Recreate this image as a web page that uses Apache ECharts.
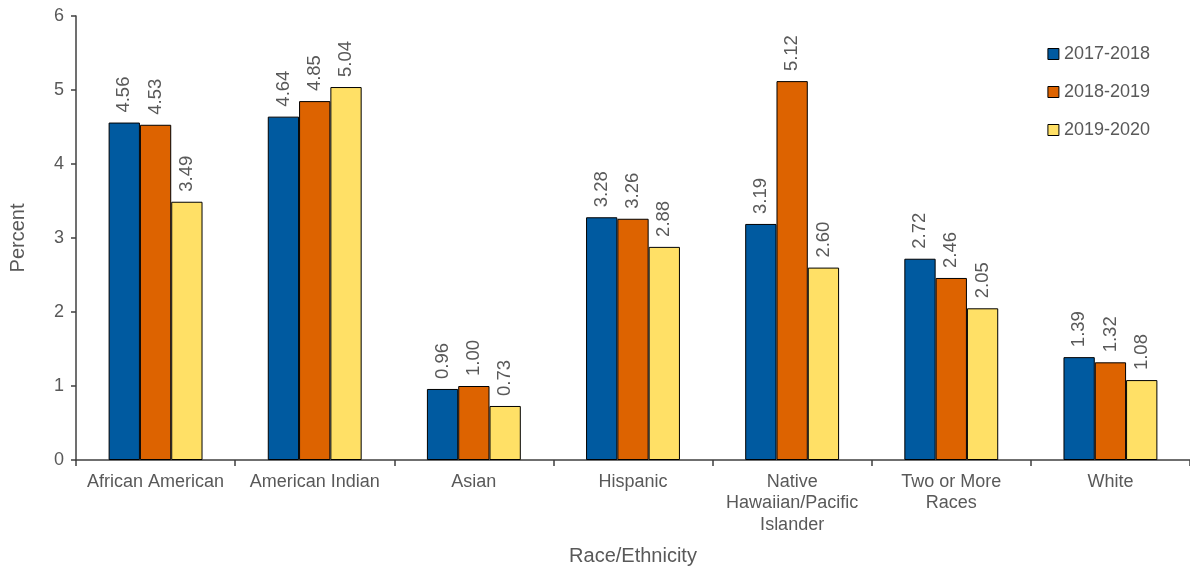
<!DOCTYPE html>
<html>
<head>
<meta charset="utf-8">
<script src="https://cdn.jsdelivr.net/npm/echarts@6/dist/echarts.min.js"></script>
<style>
  html, body { margin: 0; padding: 0; background: #fff; }
  #main { width: 1190px; height: 571px; }
</style>
</head>
<body>
<div id="main"></div>
<script>
const categories = ['African American', 'American Indian', 'Asian', 'Hispanic',
  'Native\nHawaiian/Pacific\nIslander', 'Two or More\nRaces', 'White']
const years = ['2017-2018', '2018-2019', '2019-2020']
const v1718 = [4.56, 4.64, 0.96, 3.28, 3.19, 2.72, 1.39]
const v1819 = [4.53, 4.85, 1.00, 3.26, 5.12, 2.46, 1.32]
const v1920 = [3.49, 5.04, 0.73, 2.88, 2.60, 2.05, 1.08]
const colors = ['#005AA0', '#DD6300', '#FFE066']

const textColor = '#595959'
const font = 'Liberation Sans, Arial, sans-serif'

const chart = echarts.init(document.getElementById('main'))

function makeSeries(name, data, color) {
  return {
    name: name,
    type: 'bar',
    data: data,
    barGap: '0%',
    barCategoryGap: '41%',
    itemStyle: { color: color, borderColor: '#000', borderWidth: 1 },
    label: {
      show: true,
      position: 'top',
      rotate: 90,
      align: 'left',
      verticalAlign: 'middle',
      distance: 10,
      color: textColor,
      fontFamily: font,
      fontSize: 18.5,
      formatter: p => p.value.toFixed(2)
    }
  }
}

const option = {
  animation: false,
  textStyle: { fontFamily: font },
  grid: { left: 75, right: 0, top: 16, bottom: 108, containLabel: false },
  legend: {
    orient: 'vertical',
    right: 35,
    top: 39,
    itemWidth: 11,
    itemHeight: 11,
    itemGap: 18,
    icon: 'rect',
    data: years,
    itemStyle: { borderColor: '#000', borderWidth: 1 },
    textStyle: { color: textColor, fontSize: 18, lineHeight: 20, fontFamily: font }
  },
  xAxis: {
    type: 'category',
    data: categories,
    name: 'Race/Ethnicity',
    nameLocation: 'middle',
    nameGap: 86,
    nameTextStyle: { color: textColor, fontSize: 20, fontFamily: font },
    axisLine: { lineStyle: { color: '#404040', width: 1.5 } },
    axisTick: { show: true, length: 6, lineStyle: { color: '#404040', width: 1.5 } },
    axisLabel: { color: textColor, fontSize: 18, fontFamily: font, margin: 11, lineHeight: 21.5, interval: 0 }
  },
  yAxis: {
    type: 'value',
    min: 0,
    max: 6,
    interval: 1,
    name: 'Percent',
    nameLocation: 'middle',
    nameGap: 48,
    nameTextStyle: { color: textColor, fontSize: 20, fontFamily: font },
    splitLine: { show: false },
    axisLine: { show: true, lineStyle: { color: '#404040', width: 1.5 } },
    axisTick: { show: true, length: 5, lineStyle: { color: '#404040', width: 1.5 } },
    axisLabel: { color: textColor, fontSize: 18, fontFamily: font, margin: 12 }
  },
  series: [
    makeSeries(years[0], v1718, colors[0]),
    makeSeries(years[1], v1819, colors[1]),
    makeSeries(years[2], v1920, colors[2])
  ]
}

chart.setOption(option)
</script>
</body>
</html>
